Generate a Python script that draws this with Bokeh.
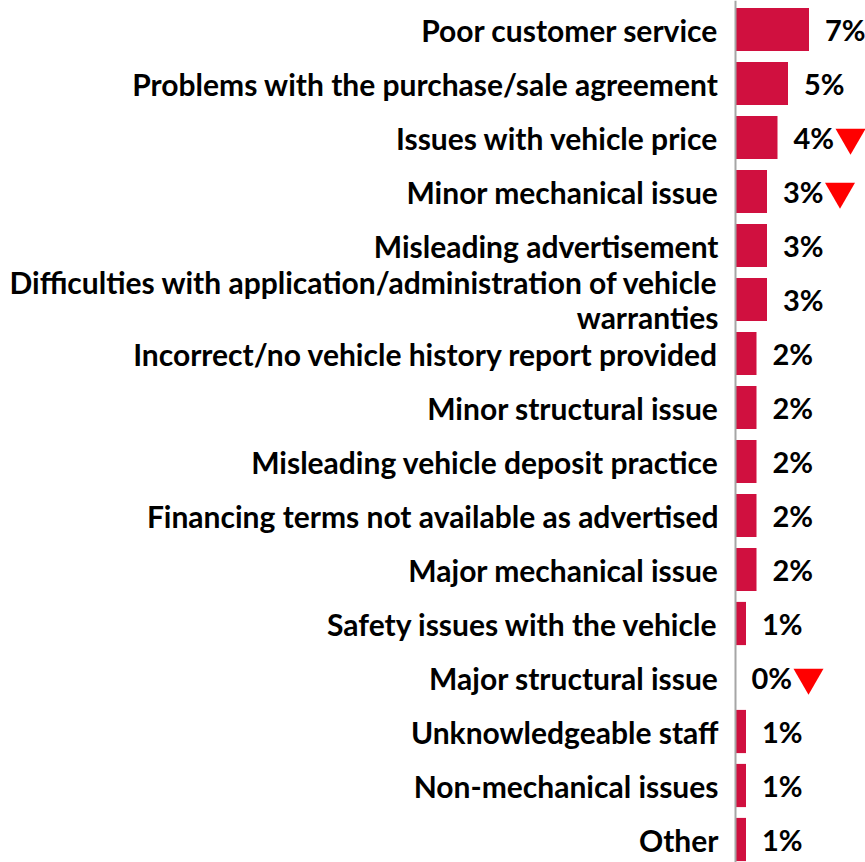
from bokeh.plotting import figure
from bokeh.models import ColumnDataSource, Range1d, Span
from bokeh.transform import dodge
from bokeh.core.properties import value
from bokeh.embed import file_html
from bokeh.resources import INLINE

categories = [
    "Poor customer service",
    "Problems with the purchase/sale agreement",
    "Issues with vehicle price",
    "Minor mechanical issue",
    "Misleading advertisement",
    "Difficulties with application/administration of vehicle\nwarranties",
    "Incorrect/no vehicle history report provided",
    "Minor structural issue",
    "Misleading vehicle deposit practice",
    "Financing terms not available as advertised",
    "Major mechanical issue",
    "Safety issues with the vehicle",
    "Major structural issue",
    "Unknowledgeable staff",
    "Non-mechanical issues",
    "Other",
]
values = [7, 5, 4, 3, 3, 3, 2, 2, 2, 2, 2, 1, 0, 1, 1, 1]
labels = ["7%", "5%", "4%", "3%", "3%", "3%", "2%", "2%", "2%", "2%", "2%", "1%", "0%", "1%", "1%", "1%"]
decline = [False, False, True, True, False, False, False, False, False, False, False, False, True, False, False, False]

W, H = 865, 862
AXIS_PX = 735
PX_PER_UNIT = 10.5
PITCH = 54
TOP_PX = 29

rows = list(range(len(categories)))
src = ColumnDataSource(dict(y=rows, v=values, cat=categories, lab=labels))
tri_rows = [r for r, d in zip(rows, decline) if d]
tri_src = ColumnDataSource(dict(y=tri_rows, v=[values[r] for r in tri_rows]))

x_start = -AXIS_PX / PX_PER_UNIT
x_end = (W - AXIS_PX) / PX_PER_UNIT
y_top = -TOP_PX / PITCH
y_bottom = y_top + H / PITCH

p = figure(width=W, height=H, output_backend="svg", toolbar_location=None,
           x_range=Range1d(x_start, x_end), y_range=Range1d(y_bottom, y_top),
           min_border=0, min_border_left=0, min_border_right=0,
           min_border_top=0, min_border_bottom=0)
p.axis.visible = False
p.grid.visible = False
p.outline_line_color = None
p.background_fill_color = "white"
p.border_fill_color = "white"

p.hbar(y="y", right="v", left=0, height=0.8, source=src,
       fill_color="#D0103F", line_color=None)

p.add_layout(Span(location=0, dimension="height", line_color="#A6A6A6", line_width=2))

FONT = value("Lato")
p.text(x=0, y="y", text="cat", source=src, x_offset=-17, text_align="right",
       text_baseline="middle", text_font=FONT, text_font_style="bold",
       text_font_size="30px", text_color="black", text_line_height=0.95)

p.text(x="v", y="y", text="lab", source=src, x_offset=16, text_align="left",
       text_baseline="middle", text_font=FONT, text_font_style="bold",
       text_font_size="29px", text_color="black")

p.scatter(x=dodge("v", 73 / PX_PER_UNIT), y="y", source=tri_src, marker="inverted_triangle",
          size=30, fill_color="#FF0000", line_color=None)

open("out.html", "w").write(file_html(p, INLINE))
